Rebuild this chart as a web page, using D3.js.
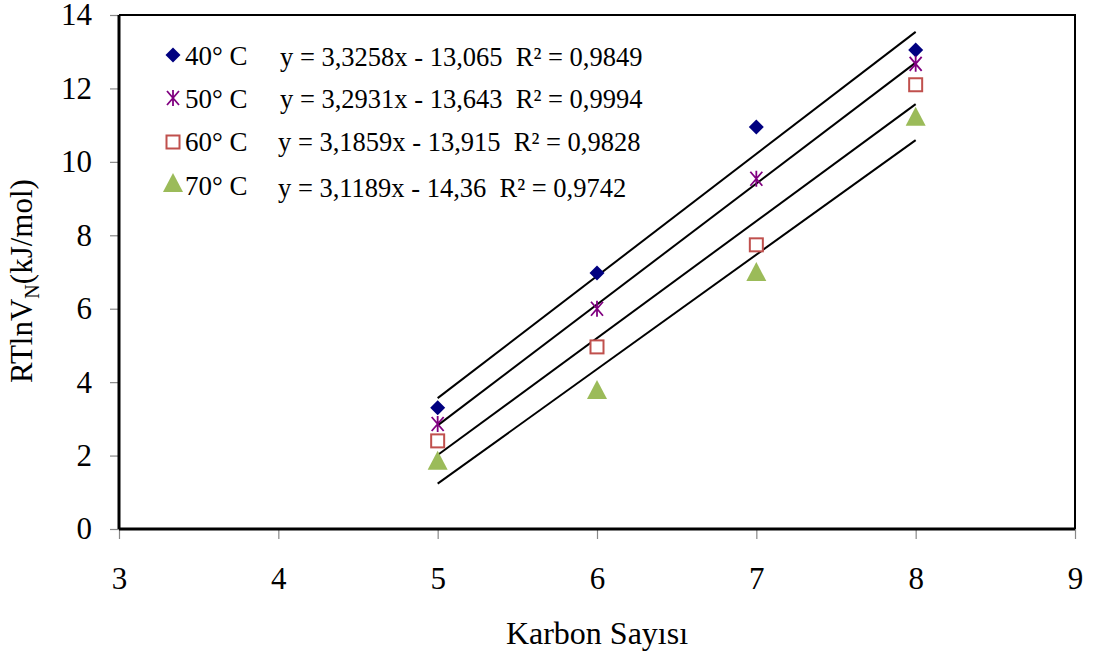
<!DOCTYPE html>
<html lang="tr">
<head>
<meta charset="UTF-8">
<title>Karbon Sayısı</title>
<script src="https://d3js.org/d3.v7.min.js"></script>
<style>
    body { margin: 0; background: #fff; }
    svg text { font-family: "Liberation Serif", "Times New Roman", serif; fill: #000; white-space: pre; }
</style>
</head>
<body>
<div id="chart"></div>
<script>
// data
const carbon = [5, 6, 7, 8];
const seriesNames = ["40° C", "50° C", "60° C", "70° C"];
const y40 = [3.30, 6.97, 10.95, 13.05];
const y50 = [2.86, 6.00, 9.54, 12.67];
const y60 = [2.40, 4.96, 7.74, 12.10];
const y70 = [1.83, 3.76, 6.97, 11.20];
const slopes = [3.3258, 3.2931, 3.1859, 3.1189];
const intercepts = [-13.065, -13.643, -13.915, -14.36];
const equations = [
    "y = 3,3258x - 13,065  R² = 0,9849",
    "y = 3,2931x - 13,643  R² = 0,9994",
    "y = 3,1859x - 13,915  R² = 0,9828",
    "y = 3,1189x - 14,36  R² = 0,9742"
];
const xTicks = [3, 4, 5, 6, 7, 8, 9];
const yTicks = [0, 2, 4, 6, 8, 10, 12, 14];

const allY = [y40, y50, y60, y70];
const markers = ["diamond", "star", "square", "triangle"];
const colors = ["#000080", "#800080", "#C0504D", "#9BBB59"];

const width = 1094, height = 659;
const margin = { top: 15, right: 19, bottom: 130, left: 119 };
const innerW = width - margin.left - margin.right;
const innerH = height - margin.top - margin.bottom;

const svg = d3.select("#chart").append("svg")
    .attr("width", width).attr("height", height);
const g = svg.append("g").attr("transform", `translate(${margin.left},${margin.top})`);

const x = d3.scaleLinear().domain([3, 9]).range([0, innerW]);
const y = d3.scaleLinear().domain([0, 14]).range([innerH, 0]);

// plot frame (top + right)
g.append("path")
    .attr("d", `M0,0H${innerW}V${innerH}`)
    .attr("fill", "none").attr("stroke", "#000").attr("stroke-width", 2);

// axes
const xAxis = g.append("g").attr("transform", `translate(0,${innerH})`)
    .call(d3.axisBottom(x).tickValues(xTicks).tickSize(10).tickPadding(28).tickFormat(d3.format("d")));
const yAxis = g.append("g")
    .call(d3.axisLeft(y).tickValues(yTicks).tickSize(9).tickPadding(18).tickFormat(d3.format("d")));

[xAxis, yAxis].forEach(a => {
    a.select(".domain").remove();
    a.selectAll(".tick line").attr("stroke", "#888").attr("stroke-width", 1.2);
    a.selectAll(".tick text").attr("font-size", 31).attr("fill", "#000")
        .style("font-family", "'Liberation Serif', 'Times New Roman', serif");
});
g.append("line").attr("x1", 0).attr("x2", innerW).attr("y1", innerH).attr("y2", innerH)
    .attr("stroke", "#000").attr("stroke-width", 3);
g.append("line").attr("x1", 0).attr("x2", 0).attr("y1", 0).attr("y2", innerH)
    .attr("stroke", "#000").attr("stroke-width", 3);

// trend lines from x=5 to x=8
const line = d3.line().x(d => x(d[0])).y(d => y(d[1]));
slopes.forEach((m, i) => {
    const ends = [carbon[0], carbon[carbon.length - 1]].map(c => [c, m * c + intercepts[i]]);
    g.append("path").attr("d", line(ends))
        .attr("fill", "none").attr("stroke", "#000").attr("stroke-width", 2);
});

// marker drawing
function drawMarker(sel, type, color) {
    if (type === "diamond") {
        sel.append("path").attr("d", "M0,-7.5L7.5,0L0,7.5L-7.5,0Z").attr("fill", color);
    } else if (type === "star") {
        sel.append("path").attr("d", "M-6,-7L6,7M6,-7L-6,7M0,-8V8")
            .attr("stroke", color).attr("stroke-width", 1.8).attr("fill", "none");
    } else if (type === "square") {
        sel.append("rect").attr("x", -6.5).attr("y", -6.5).attr("width", 13).attr("height", 13)
            .attr("fill", "#fff").attr("stroke", color).attr("stroke-width", 2);
    } else {
        sel.append("path").attr("d", "M0,-11L10,8L-10,8Z").attr("fill", color);
    }
}

allY.forEach((vals, i) => {
    vals.forEach((v, j) => {
        const m = g.append("g").attr("transform", `translate(${x(carbon[j])},${y(v)})`);
        drawMarker(m, markers[i], colors[i]);
    });
});

// legend
const markerY = [55, 98, 142, 184];
const nameBase = [65, 108, 151, 195];
const eqX = [280, 280, 278, 278];
const eqBase = [66, 108, 151, 197];
seriesNames.forEach((name, i) => {
    const m = svg.append("g").attr("transform", `translate(173,${markerY[i]})`);
    drawMarker(m, markers[i], colors[i]);
    svg.append("text").attr("x", 185).attr("y", nameBase[i])
        .attr("font-size", 27).text(name);
    svg.append("text").attr("x", eqX[i]).attr("y", eqBase[i])
        .attr("font-size", 26.5).text(equations[i]);
});

// axis titles
svg.append("text").attr("x", margin.left + innerW / 2).attr("y", 644)
    .attr("text-anchor", "middle").attr("font-size", 32).text("Karbon Sayısı");

const yt = svg.append("text")
    .attr("transform", `translate(32,281) rotate(-90)`)
    .attr("text-anchor", "middle").attr("font-size", 31);
yt.append("tspan").text("RTlnV");
yt.append("tspan").attr("font-size", 20).attr("dy", 7).text("N");
yt.append("tspan").attr("dy", -7).text("(kJ/mol)");
</script>
</body>
</html>
